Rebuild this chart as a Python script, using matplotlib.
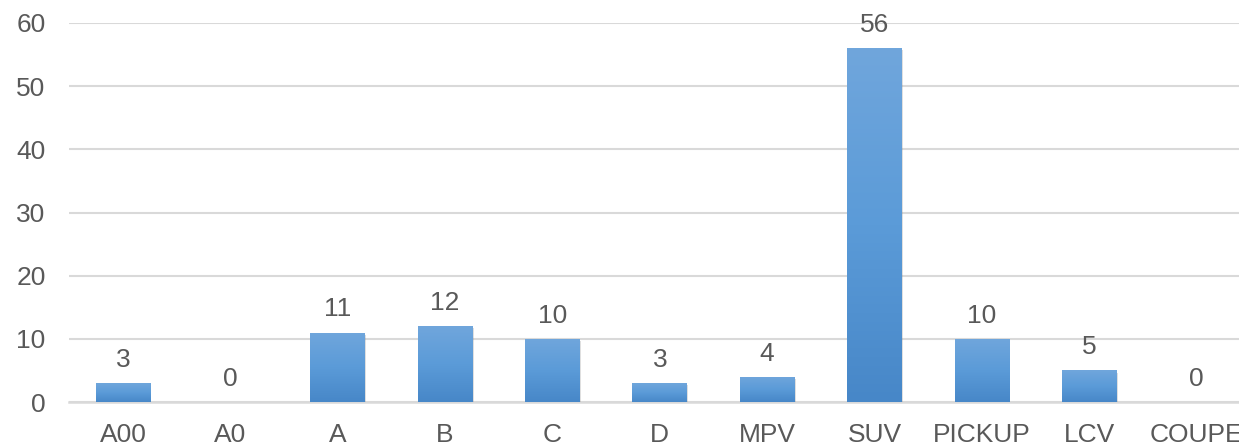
import numpy as np
import matplotlib.pyplot as plt
import matplotlib.patheffects as pe
from matplotlib.colors import LinearSegmentedColormap

plt.rcParams['font.family'] = ['Liberation Sans', 'DejaVu Sans']

categories = ["A00", "A0", "A", "B", "C", "D", "MPV", "SUV", "PICKUP", "LCV", "COUPE"]
counts = [3, 0, 11, 12, 10, 3, 4, 56, 10, 5, 0]
y_ticks = [0, 10, 20, 30, 40, 50, 60]

TEXT = "#595959"
GRID = "#d9d9d9"
grad = LinearSegmentedColormap.from_list("bar", ["#4787c8", "#5b9bd8", "#70a6dc"])

W, H = 1239, 445
fig = plt.figure(figsize=(W / 100, H / 100), dpi=100)
# plot area runs past the right edge (COUPE is cut off in the reference)
ax = fig.add_axes([69.3 / W, 43 / H, 1181 / W, 379 / H])

x = np.arange(len(categories))
bars = ax.bar(x, counts, width=0.51, color="#5b9bd5", zorder=3)
for b in bars:
    b.set_path_effects([pe.SimplePatchShadow(offset=(0.8, -1.5), shadow_rgbFace="#808080", alpha=0.25),
                        pe.Normal()])
    if b.get_height() > 0:
        img = ax.imshow(np.linspace(0, 1, 256).reshape(-1, 1), cmap=grad, aspect="auto",
                        origin="lower", zorder=4,
                        extent=[b.get_x(), b.get_x() + b.get_width(), 0, b.get_height()])
        img.set_clip_path(b)

for xi, v in zip(x, counts):
    ax.annotate(f"{v}", xy=(xi, v), xytext=(0, 8), textcoords="offset points",
                ha="center", va="bottom", fontsize=19, color=TEXT, clip_on=False)

ax.set_xlim(-0.5, len(categories) - 0.5)
ax.set_ylim(0, 60)
ax.set_yticks(y_ticks)
ax.set_xticks(x)
ax.set_xticklabels(categories)
ax.tick_params(axis="both", length=0, labelsize=19, labelcolor=TEXT)
ax.tick_params(axis="x", pad=15)
ax.tick_params(axis="y", pad=17)
ax.grid(axis="y", color=GRID, linewidth=1.5, zorder=0)
for s in ["top", "right", "left"]:
    ax.spines[s].set_visible(False)
ax.spines["bottom"].set_color(GRID)
ax.spines["bottom"].set_linewidth(1.8)
ax.spines["bottom"].set_zorder(2)

fig.savefig("out.png", dpi=100)
